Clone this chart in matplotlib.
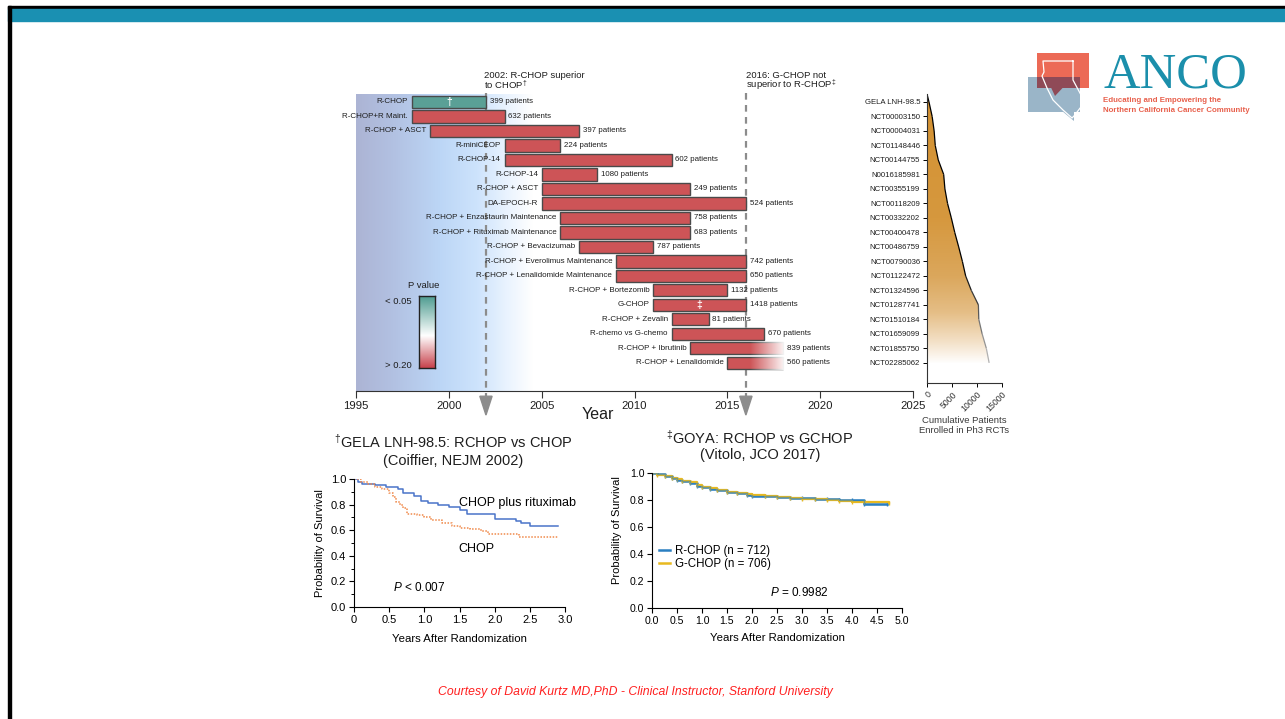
import numpy as np
import matplotlib
matplotlib.use("Agg")
import matplotlib.pyplot as plt
from matplotlib.patches import Rectangle, Polygon
from matplotlib.collections import LineCollection

plt.rcParams['font.family'] = ['Liberation Sans', 'DejaVu Sans']
plt.rcParams['mathtext.fontset'] = 'custom'
plt.rcParams['mathtext.rm'] = 'Liberation Sans'
plt.rcParams['mathtext.it'] = 'Liberation Sans:italic'

# ---------------- data ----------------
trials = ["R-CHOP", "R-CHOP+R Maint.", "R-CHOP + ASCT", "R-miniCEOP", "R-CHOP-14",
          "R-CHOP-14", "R-CHOP + ASCT", "DA-EPOCH-R", "R-CHOP + Enzastaurin Maintenance",
          "R-CHOP + Rituximab Maintenance", "R-CHOP + Bevacizumab",
          "R-CHOP + Everolimus Maintenance", "R-CHOP + Lenalidomide Maintenance",
          "R-CHOP + Bortezomib", "G-CHOP", "R-CHOP + Zevalin", "R-chemo vs G-chemo",
          "R-CHOP + Ibrutinib", "R-CHOP + Lenalidomide"]
trial_ids = ["GELA LNH-98.5", "NCT00003150", "NCT00004031", "NCT01148446", "NCT00144755",
             "N0016185981", "NCT00355199", "NCT00118209", "NCT00332202", "NCT00400478",
             "NCT00486759", "NCT00790036", "NCT01122472", "NCT01324596", "NCT01287741",
             "NCT01510184", "NCT01659099", "NCT01855750", "NCT02285062"]
start_year = [1998, 1998, 1999, 2003, 2003, 2005, 2005, 2005, 2006, 2006, 2007, 2009,
              2009, 2011, 2011, 2012, 2012, 2013, 2015]
end_year = [2002, 2003, 2007, 2006, 2012, 2008, 2013, 2016, 2013, 2013, 2011, 2016,
            2016, 2015, 2016, 2014, 2017, 2018, 2018]
patients = [399, 632, 397, 224, 602, 1080, 249, 524, 758, 683, 787, 742, 650, 1132,
            1418, 81, 670, 839, 560]
significant = [True] + [False] * 18
ongoing = [False] * 17 + [True, True]
bar_marks = {0: "\u2020", 14: "\u2021"}
year_ticks = [1995, 2000, 2005, 2010, 2015, 2020, 2025]
cum_ticks = [0, 5000, 10000, 15000]

# GELA LNH-98.5 survival curves
gela_rchop_t = [0, 0.05, 0.12, 0.30, 0.45, 0.62, 0.70, 0.85, 0.95, 1.05, 1.20, 1.35,
                1.50, 1.60, 2.00, 2.30, 2.38, 2.50, 2.90]
gela_rchop_s = [1.00, 0.98, 0.96, 0.95, 0.935, 0.92, 0.89, 0.87, 0.83, 0.81, 0.795, 0.78,
                0.76, 0.73, 0.69, 0.675, 0.655, 0.63, 0.63]
gela_chop_t = [0, 0.10, 0.20, 0.30, 0.40, 0.50, 0.55, 0.60, 0.65, 0.70, 0.75, 0.90, 1.00,
               1.10, 1.25, 1.40, 1.50, 1.65, 1.80, 1.90, 2.35, 2.90]
gela_chop_s = [1.00, 0.98, 0.96, 0.94, 0.92, 0.89, 0.86, 0.82, 0.80, 0.77, 0.73, 0.72,
               0.70, 0.68, 0.66, 0.63, 0.615, 0.61, 0.59, 0.57, 0.55, 0.55]

# GOYA survival curves
goya_t = [0, 0.10, 0.25, 0.40, 0.50, 0.60, 0.75, 0.90, 1.00, 1.15, 1.30, 1.50, 1.70, 1.90,
          2.00, 2.25, 2.50, 2.75, 3.00, 3.25, 3.50, 3.75, 4.00, 4.25, 4.70]
goya_r = [1.00, 0.99, 0.975, 0.96, 0.95, 0.94, 0.925, 0.905, 0.895, 0.885, 0.875, 0.86,
          0.85, 0.84, 0.832, 0.828, 0.824, 0.818, 0.813, 0.808, 0.804, 0.80, 0.80, 0.77,
          0.77]
goya_g_t = [0, 0.10, 0.25, 0.40, 0.50, 0.60, 0.75, 0.90, 1.00, 1.15, 1.30, 1.50, 1.70,
            1.90, 2.00, 2.25, 2.50, 2.75, 3.00, 3.25, 3.50, 3.75, 4.00, 4.25, 4.75]
goya_g = [1.00, 0.988, 0.975, 0.962, 0.952, 0.944, 0.93, 0.91, 0.898, 0.887, 0.876, 0.862,
          0.852, 0.842, 0.835, 0.826, 0.82, 0.815, 0.81, 0.806, 0.80, 0.795, 0.788, 0.785,
          0.78]

# ---------------- figure ----------------
W, H = 1285, 719
fig = plt.figure(figsize=(W / 100, H / 100), dpi=100)


def box(l, t, r, b):
    return [l / W, 1 - b / H, (r - l) / W, (b - t) / H]


TXT = '#1e1e1e'
RED = '#cd5457'
TEAL = '#5aa096'
EDGE = '#4a4a4a'
DASH = '#8c8c8c'

# ---------- timeline of phase 3 trials ----------
ax = fig.add_axes(box(356, 94, 913, 391))
ax.patch.set_alpha(0)
n = len(trials)
rows = np.arange(n)
y_top, y_bot = -0.55, 19.94

# shaded era before R-CHOP became standard
gx = np.linspace(1995, 2004.5, 400)
sx = [1995, 1997, 1999.5, 2001.5, 2003, 2004.5]
sc = np.array([(172, 180, 212), (178, 193, 226), (188, 214, 246), (205, 227, 252),
               (232, 242, 254), (255, 255, 255)]) / 255
grad = np.stack([np.interp(gx, sx, sc[:, k]) for k in range(3)], axis=-1)[None, :, :]
ax.imshow(grad, extent=[1995, 2004.5, y_bot, y_top], aspect='auto', zorder=0,
          interpolation='bilinear')

# milestone markers
for yr in (2002, 2016):
    ax.plot([yr, yr], [-0.65, 20.3], color=DASH, lw=1.6, ls=(0, (3, 2.4)),
            clip_on=False, zorder=1)
    ax.add_patch(Polygon([(yr - 0.33, 20.3), (yr + 0.33, 20.3), (yr, 21.6)],
                         closed=True, color=DASH, clip_on=False, zorder=1))

for i in range(n):
    fc = TEAL if significant[i] else RED
    ax.add_patch(Rectangle((start_year[i], i - 0.42), end_year[i] - start_year[i], 0.84,
                           facecolor=fc, edgecolor=EDGE, lw=1.0, zorder=3))
    if ongoing[i]:
        fade = np.ones((1, 200, 4))
        fade[0, :, 3] = np.linspace(0, 1, 200)
        ax.imshow(fade, extent=[2016.2, 2018.12, i + 0.5, i - 0.5], aspect='auto',
                  zorder=4, interpolation='bilinear')
    ax.text(start_year[i] - 0.2, i, trials[i], ha='right', va='center', fontsize=5.8,
            color=TXT, zorder=5)
    ax.text(end_year[i] + 0.2, i, f"{patients[i]} patients", ha='left', va='center',
            fontsize=5.7, color=TXT, zorder=5)
    if i in bar_marks:
        ax.text((start_year[i] + end_year[i]) / 2, i, bar_marks[i], ha='center',
                va='center', fontsize=7.5, color='white', fontweight='bold', zorder=5)

ax.set_xlim(1995, 2025)
ax.set_ylim(y_bot, y_top)
ax.set_xticks(year_ticks)
ax.set_xticklabels([str(y) for y in year_ticks])
ax.set_yticks([])
for s in ('top', 'right', 'left'):
    ax.spines[s].set_visible(False)
ax.spines['bottom'].set_color('#333333')
ax.tick_params(axis='x', labelsize=8.2, length=5, color='#333333', labelcolor=TXT, pad=2)
ax.set_xlabel("Year", fontsize=11.5, color=TXT)
ax.xaxis.set_label_coords(0.435, -0.055)

# P-value colour key
cax = fig.add_axes(box(419, 296, 435, 368))
cg = np.linspace(0, 1, 200)
cs = [0, 0.55, 1.0]
cc = np.array([(78, 156, 144), (255, 255, 255), (200, 66, 76)]) / 255
ckey = np.stack([np.interp(cg, cs, cc[:, k]) for k in range(3)], axis=-1)[:, None, :]
cax.imshow(ckey, aspect='auto', extent=[0, 1, 1, 0], interpolation='bilinear')
cax.set_xticks([])
cax.set_yticks([])
for s in cax.spines.values():
    s.set_linewidth(1.0)
    s.set_color('#222222')

# ---------- cumulative enrolment ----------
axr = fig.add_axes(box(927, 94, 1002, 383))
axr.patch.set_alpha(0)
cum = np.cumsum(patients)
ry_top, ry_bot = -0.55, 19.39
px = np.concatenate([[0], cum])
py = np.concatenate([[ry_top], rows])

gy = np.linspace(ry_top, rows[-1] + 0.05, 300)
fy = [ry_top, 8, 12, 14.5, 16.5, rows[-1] + 0.05]
fc_ = np.array([(212, 146, 50), (214, 152, 62), (219, 167, 92), (229, 190, 134),
                (243, 224, 198), (255, 255, 255)]) / 255
fgrad = np.stack([np.interp(gy, fy, fc_[:, k]) for k in range(3)], axis=-1)[:, None, :]
im = axr.imshow(fgrad, extent=[0, 13500, rows[-1] + 0.05, ry_top], aspect='auto',
                interpolation='bilinear', zorder=1)
clip = Polygon(list(zip(px, py)) + [(0, rows[-1])], closed=True, transform=axr.transData)
im.set_clip_path(clip)

segs = [[(px[k], py[k]), (px[k + 1], py[k + 1])] for k in range(len(px) - 1)]
mid = [(py[k] + py[k + 1]) / 2 for k in range(len(px) - 1)]
lcol = [str(np.clip(np.interp(m, [11.5, 18], [0.0, 0.75]), 0, 1)) for m in mid]
axr.add_collection(LineCollection(segs, colors=lcol, linewidths=0.9, zorder=2))

axr.set_xlim(0, 15000)
axr.set_ylim(ry_bot, ry_top)
axr.set_yticks(rows)
axr.set_yticklabels(trial_ids)
axr.set_xticks(cum_ticks)
axr.set_xticklabels([str(v) for v in cum_ticks], rotation=45, ha='right',
                    rotation_mode='anchor')
axr.tick_params(axis='y', labelsize=5.6, length=3, width=0.7, pad=2, labelcolor=TXT)
axr.tick_params(axis='x', labelsize=6.3, length=3, width=0.7, pad=2, labelcolor='#333333')
for s in ('top', 'right'):
    axr.spines[s].set_visible(False)
axr.spines['left'].set_color('#333333')
axr.spines['bottom'].set_color('#333333')
axr.set_xlabel("Cumulative Patients\nEnrolled in Ph3 RCTs", fontsize=6.8,
               color='#3a3a3a', labelpad=2, linespacing=1.1)

# ---------- GELA LNH-98.5 ----------
km1 = fig.add_axes(box(354, 479, 565, 607))
km1.step(gela_rchop_t, gela_rchop_s, where='post', color='#4a74c9', lw=1.1)
km1.step(gela_chop_t, gela_chop_s, where='post', color='#f08a4b', lw=1.1, ls=(0, (1, 1)))
km1.set_xlim(0, 3.0)
km1.set_ylim(0, 1.0)
km1.set_xticks(np.arange(0, 3.01, 0.5))
km1.set_xticklabels(['0', '0.5', '1.0', '1.5', '2.0', '2.5', '3.0'])
km1.set_yticks(np.arange(0, 1.01, 0.2))
km1.set_yticklabels([f"{v:.1f}" for v in np.arange(0, 1.01, 0.2)])
km1.set_yticks(np.arange(0.1, 1.0, 0.2), minor=True)
km1.tick_params(labelsize=8, length=3.5, width=0.8, pad=2)
km1.tick_params(which='minor', length=2, width=0.7)
for s in ('top', 'right'):
    km1.spines[s].set_visible(False)
km1.set_ylabel("Probability of Survival", fontsize=8, labelpad=4)
km1.set_xlabel("Years After Randomization", fontsize=8.2, labelpad=7)
km1.text(1.49, 0.81, "CHOP plus rituximab", fontsize=9, va='center', ha='left')
km1.text(1.49, 0.45, "CHOP", fontsize=9, va='center', ha='left')
km1.text(0.55, 0.155, r"$P$ < 0.007", fontsize=8.5, va='center', ha='left')

# ---------- GOYA ----------
km2 = fig.add_axes(box(652, 473, 902, 608))
km2.step(goya_t, goya_r, where='post', color='#2a7fc1', lw=1.8,
         marker='|', markersize=3, markevery=1, label='R-CHOP (n = 712)')
km2.step(goya_g_t, goya_g, where='post', color='#e8b920', lw=1.6,
         marker='|', markersize=3, label='G-CHOP (n = 706)')
km2.step(goya_t, goya_r, where='post', color='#2a7fc1', lw=1.0, alpha=0.6)
km2.set_xlim(0, 5.0)
km2.set_ylim(0, 1.0)
km2.set_xticks(np.arange(0, 5.01, 0.5))
km2.set_xticklabels([f"{v:.1f}" for v in np.arange(0, 5.01, 0.5)])
km2.set_yticks(np.arange(0, 1.01, 0.2))
km2.set_yticklabels([f"{v:.1f}" for v in np.arange(0, 1.01, 0.2)])
km2.tick_params(labelsize=7.6, length=3.5, width=0.8, pad=2)
for s in ('top', 'right'):
    km2.spines[s].set_visible(False)
km2.set_ylabel("Probability of Survival", fontsize=8, labelpad=3)
km2.yaxis.set_label_coords(-0.12, 0.58)
km2.set_xlabel("Years After Randomization", fontsize=8.2, labelpad=5)
leg = km2.legend(loc='upper left', bbox_to_anchor=(0.0, 0.52), frameon=False,
                 fontsize=8.3, handlelength=1.0, handletextpad=0.4, labelspacing=0.15,
                 borderaxespad=0.2)
for h in leg.get_lines():
    h.set_marker('')
    h.set_linewidth(1.8)
km2.text(2.94, 0.113, r"$P$ = 0.9982", fontsize=8.5, va='center', ha='center')

# ---------- slide furniture ----------
ov = fig.add_axes([0, 0, 1, 1])
ov.set_xlim(0, W)
ov.set_ylim(H, 0)
ov.axis('off')
ov.patch.set_alpha(0)

ov.add_patch(Rectangle((8, 5.5), W - 8, 3.5, color='black'))
ov.add_patch(Rectangle((8, 9), W - 8, 12, color='#1a90b2'))
ov.add_patch(Rectangle((8, 5.5), 3, H, color='black'))

ov.text(484, 75, "2002: R-CHOP superior", fontsize=6.8, ha='left', va='center', color=TXT)
ov.text(484, 84.5, r"to CHOP$^{\dagger}$", fontsize=6.8, ha='left', va='center', color=TXT)
ov.text(746, 75, "2016: G-CHOP not", fontsize=6.8, ha='left', va='center', color=TXT)
ov.text(746, 84.5, r"superior to R-CHOP$^{\ddagger}$", fontsize=6.8, ha='left',
        va='center', color=TXT)

ov.text(424, 286, "P value", fontsize=6.8, ha='center', va='center', color=TXT)
ov.text(412, 302, "< 0.05", fontsize=6.8, ha='right', va='center', color=TXT)
ov.text(412, 366, "> 0.20", fontsize=6.8, ha='right', va='center', color=TXT)

ov.text(453, 442, r"$^{\dagger}$GELA LNH-98.5: RCHOP vs CHOP", fontsize=10.5,
        ha='center', va='center', color=TXT)
ov.text(453, 461, "(Coiffier, NEJM 2002)", fontsize=10.5, ha='center', va='center',
        color=TXT)
ov.text(760, 438, r"$^{\ddagger}$GOYA: RCHOP vs GCHOP", fontsize=10.5, ha='center',
        va='center', color=TXT)
ov.text(760, 455, "(Vitolo, JCO 2017)", fontsize=10.5, ha='center', va='center',
        color=TXT)

# ANCO logo
ov.add_patch(Rectangle((1028, 77), 52, 35, color='#9ab5c8', lw=0))
ov.add_patch(Polygon([(1062, 111), (1074, 111), (1074, 121)], closed=True,
                     color='#9ab5c8', lw=0))
ov.add_patch(Rectangle((1037, 53), 52, 35, color='#ec6a56', lw=0))
ov.add_patch(Rectangle((1037, 77), 43, 11, color='#8f4a57', lw=0))
ov.add_patch(Polygon([(1051, 87.5), (1063, 87.5), (1055, 96)], closed=True,
                     color='#8f4a57', lw=0))
state = [(1073, 61), (1043, 61), (1044, 72), (1042, 76), (1047, 88), (1053, 100),
         (1063, 110), (1072, 118), (1074, 116), (1084, 103), (1081, 95), (1073, 80),
         (1073, 61)]
sxs, sys_ = zip(*state)
ov.plot(sxs, sys_, color='white', lw=0.9)
ov.text(1104, 88, "ANCO", fontsize=36.5, family=['Liberation Serif', 'DejaVu Serif'],
        color='#1b8fab', ha='left', va='baseline')
ov.text(1103, 101, "Educating and Empowering the", fontsize=5.7, color='#e8604c',
        fontweight='bold', ha='left', va='center')
ov.text(1103, 110.5, "Northern California Cancer Community", fontsize=5.7,
        color='#e8604c', fontweight='bold', ha='left', va='center')

ov.text(635, 692, "Courtesy of David Kurtz MD,PhD - Clinical Instructor, Stanford University",
        color='#ff1f1f', style='italic', fontsize=8.8, ha='center', va='center')

fig.savefig("out.png", dpi=100)
